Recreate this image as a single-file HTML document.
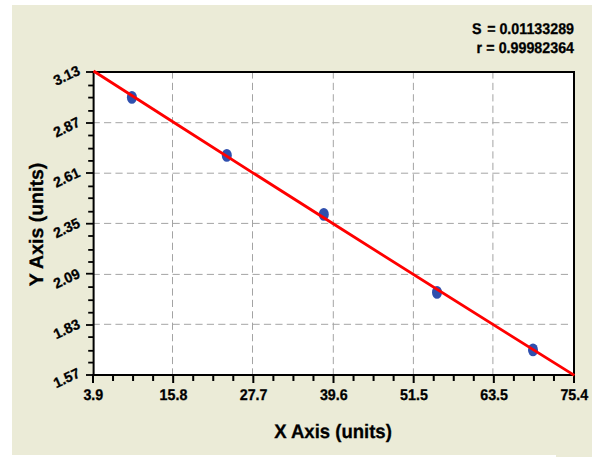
<!DOCTYPE html><html><head><meta charset="utf-8"><style>
html,body{margin:0;padding:0;background:#fff;width:600px;height:457px;overflow:hidden}
svg{display:block}
text{font-family:"Liberation Sans",sans-serif;font-weight:bold;fill:#000;text-rendering:geometricPrecision;stroke:#000;stroke-width:0.3px}
</style></head><body>
<svg width="600" height="457" viewBox="0 0 600 457">
<rect x="12" y="5" width="580" height="450" fill="#EBEBD7"/>
<rect x="556" y="455" width="36" height="2" fill="#EBEBD7"/>
<rect x="93.0" y="72.0" width="481.0" height="303.0" fill="#fff"/>
<g stroke="#a4a4a4" stroke-width="1" stroke-dasharray="7.2 4.22"><line x1="172.50" y1="71.4" x2="172.50" y2="374.0"/><line x1="252.50" y1="71.4" x2="252.50" y2="374.0"/><line x1="333.30" y1="71.4" x2="333.30" y2="374.0"/><line x1="413.40" y1="71.4" x2="413.40" y2="374.0"/><line x1="492.90" y1="71.4" x2="492.90" y2="374.0"/><line x1="92.6" y1="122.70" x2="570.5" y2="122.70"/><line x1="92.6" y1="173.20" x2="570.5" y2="173.20"/><line x1="92.6" y1="223.40" x2="570.5" y2="223.40"/><line x1="92.6" y1="274.40" x2="570.5" y2="274.40"/><line x1="92.6" y1="324.30" x2="570.5" y2="324.30"/></g>
<g fill="#000">
<rect x="92.0" y="71.0" width="483.0" height="2"/>
<rect x="92.0" y="374.0" width="483.0" height="2"/>
<rect x="92.6" y="71.0" width="2" height="305.0"/>
<rect x="573.0" y="71.0" width="2" height="305.0"/>
<rect x="86" y="71.10" width="7" height="1.8"/>
<rect x="88.2" y="84.60" width="5" height="1.8"/>
<rect x="88.2" y="96.70" width="5" height="1.8"/>
<rect x="88.2" y="110.00" width="5" height="1.8"/>
<rect x="86" y="122.10" width="7" height="1.8"/>
<rect x="88.2" y="134.60" width="5" height="1.8"/>
<rect x="88.2" y="147.70" width="5" height="1.8"/>
<rect x="88.2" y="160.00" width="5" height="1.8"/>
<rect x="86" y="172.10" width="7" height="1.8"/>
<rect x="88.2" y="185.50" width="5" height="1.8"/>
<rect x="88.2" y="197.30" width="5" height="1.8"/>
<rect x="88.2" y="210.80" width="5" height="1.8"/>
<rect x="86" y="222.80" width="7" height="1.8"/>
<rect x="88.2" y="235.10" width="5" height="1.8"/>
<rect x="88.2" y="249.00" width="5" height="1.8"/>
<rect x="88.2" y="261.10" width="5" height="1.8"/>
<rect x="86" y="272.80" width="7" height="1.8"/>
<rect x="88.2" y="286.20" width="5" height="1.8"/>
<rect x="88.2" y="299.30" width="5" height="1.8"/>
<rect x="88.2" y="311.80" width="5" height="1.8"/>
<rect x="86" y="324.10" width="7" height="1.8"/>
<rect x="88.2" y="336.20" width="5" height="1.8"/>
<rect x="88.2" y="349.90" width="5" height="1.8"/>
<rect x="88.2" y="361.70" width="5" height="1.8"/>
<rect x="86" y="374.10" width="7" height="1.8"/>
<rect x="92.00" y="375.0" width="2" height="8"/>
<rect x="112.04" y="375.0" width="2" height="6"/>
<rect x="132.08" y="375.0" width="2" height="6"/>
<rect x="152.12" y="375.0" width="2" height="6"/>
<rect x="172.17" y="375.0" width="2" height="8"/>
<rect x="192.21" y="375.0" width="2" height="6"/>
<rect x="212.25" y="375.0" width="2" height="6"/>
<rect x="232.29" y="375.0" width="2" height="6"/>
<rect x="252.33" y="375.0" width="2" height="8"/>
<rect x="272.38" y="375.0" width="2" height="6"/>
<rect x="292.42" y="375.0" width="2" height="6"/>
<rect x="312.46" y="375.0" width="2" height="6"/>
<rect x="332.50" y="375.0" width="2" height="8"/>
<rect x="352.54" y="375.0" width="2" height="6"/>
<rect x="372.58" y="375.0" width="2" height="6"/>
<rect x="392.62" y="375.0" width="2" height="6"/>
<rect x="412.67" y="375.0" width="2" height="8"/>
<rect x="432.71" y="375.0" width="2" height="6"/>
<rect x="452.75" y="375.0" width="2" height="6"/>
<rect x="472.79" y="375.0" width="2" height="6"/>
<rect x="492.83" y="375.0" width="2" height="8"/>
<rect x="512.88" y="375.0" width="2" height="6"/>
<rect x="532.92" y="375.0" width="2" height="6"/>
<rect x="552.96" y="375.0" width="2" height="6"/>
<rect x="573.00" y="375.0" width="2" height="8"/>
</g>
<ellipse cx="131.9" cy="97.4" rx="5" ry="6.4" fill="#2f4fae"/>
<ellipse cx="226.8" cy="155.4" rx="5" ry="6.4" fill="#2f4fae"/>
<ellipse cx="323.8" cy="214.4" rx="5" ry="6.4" fill="#2f4fae"/>
<ellipse cx="437" cy="292.4" rx="5" ry="6.4" fill="#2f4fae"/>
<ellipse cx="533" cy="349.9" rx="5" ry="6.4" fill="#2f4fae"/>
<path d="M93.5 71 Q333.95 225.3 574.4 375.4" fill="none" stroke="#ff0000" stroke-width="2.8" stroke-linecap="butt"/>
<text x="0" y="0" font-size="15.5" text-anchor="middle" transform="translate(93.30 399.50) scale(0.92 1)">3.9</text>
<text x="0" y="0" font-size="15.5" text-anchor="middle" transform="translate(173.47 399.50) scale(0.92 1)">15.8</text>
<text x="0" y="0" font-size="15.5" text-anchor="middle" transform="translate(253.63 399.50) scale(0.92 1)">27.7</text>
<text x="0" y="0" font-size="15.5" text-anchor="middle" transform="translate(333.80 399.50) scale(0.92 1)">39.6</text>
<text x="0" y="0" font-size="15.5" text-anchor="middle" transform="translate(413.97 399.50) scale(0.92 1)">51.5</text>
<text x="0" y="0" font-size="15.5" text-anchor="middle" transform="translate(494.13 399.50) scale(0.92 1)">63.5</text>
<text x="0" y="0" font-size="15.5" text-anchor="middle" transform="translate(574.30 399.50) scale(0.92 1)">75.4</text>
<text x="0" y="0" font-size="14.5" text-anchor="end" transform="translate(81.00 74.00) scale(0.97 1) rotate(-25)">3.13</text>
<text x="0" y="0" font-size="14.5" text-anchor="end" transform="translate(81.00 125.70) scale(0.97 1) rotate(-25)">2.87</text>
<text x="0" y="0" font-size="14.5" text-anchor="end" transform="translate(81.00 176.00) scale(0.97 1) rotate(-25)">2.61</text>
<text x="0" y="0" font-size="14.5" text-anchor="end" transform="translate(81.00 226.50) scale(0.97 1) rotate(-25)">2.35</text>
<text x="0" y="0" font-size="14.5" text-anchor="end" transform="translate(81.00 277.00) scale(0.97 1) rotate(-25)">2.09</text>
<text x="0" y="0" font-size="14.5" text-anchor="end" transform="translate(81.00 327.50) scale(0.97 1) rotate(-25)">1.83</text>
<text x="0" y="0" font-size="14.5" text-anchor="end" transform="translate(81.00 376.50) scale(0.97 1) rotate(-25)">1.57</text>
<text x="0" y="0" font-size="19.5" text-anchor="middle" transform="translate(333.00 438.00) scale(0.95 1)">X Axis (units)</text>
<text x="0" y="0" font-size="19.5" text-anchor="middle" transform="translate(43.00 224.50) scale(1 1) rotate(-90)">Y Axis (units)</text>
<text x="0" y="0" font-size="15.5" text-anchor="end" transform="translate(574 34.2) scale(0.92 1)">S <tspan dx="1.9">= 0.01133289</tspan></text>
<text x="0" y="0" font-size="15.5" text-anchor="end" transform="translate(574 52.6) scale(0.92 1)">r <tspan dx="0.3">= 0.99982364</tspan></text>
</svg></body></html>
